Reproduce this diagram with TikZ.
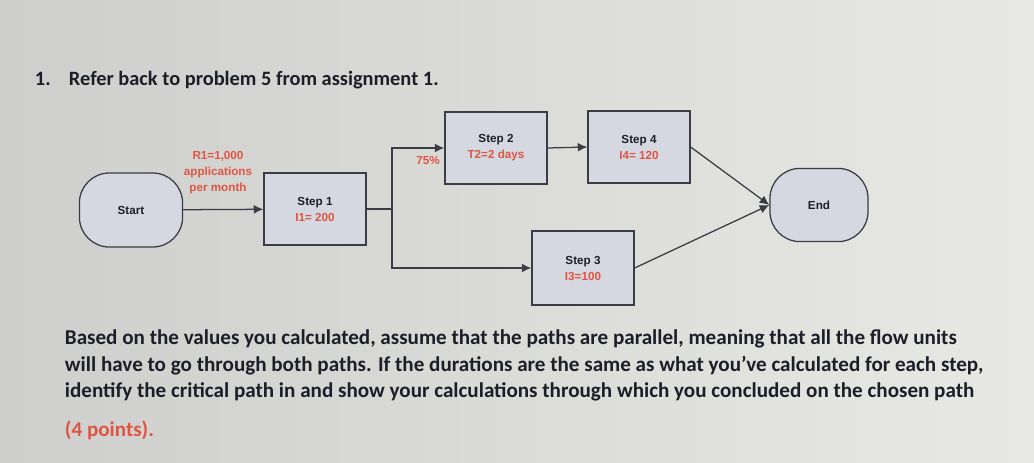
\documentclass[tikz,border=0pt]{standalone}
\usepackage{fontspec}
\setmainfont{Carlito}
\newfontfamily\boxfont{Liberation Sans}
\usetikzlibrary{arrows.meta}
\definecolor{bgleft}{RGB}{206,206,204}
\definecolor{bgright}{RGB}{232,232,228}
\definecolor{boxfill}{RGB}{213,216,225}
\definecolor{boxline}{RGB}{58,60,70}
\definecolor{txtred}{RGB}{222,86,66}
\definecolor{txtdark}{RGB}{28,30,40}
\tikzset{
  stepbox/.style={draw=boxline, line width=0.9pt, fill=boxfill, minimum width=2.55cm, minimum height=1.8cm,
    align=center, text=txtdark, font=\boxfont\bfseries\fontsize{8.3}{11.4}\selectfont},
  termbox/.style={stepbox, rounded corners=0.75cm},
  redlabel/.style={text=txtred, align=center, font=\boxfont\bfseries\fontsize{8.3}{11.4}\selectfont},
  flow/.style={draw=boxline, line width=0.9pt},
  tip/.style={flow, -{Latex[length=2.4mm,width=2.2mm]}},
  para/.style={anchor=base west, text=txtdark, font=\bfseries\fontsize{15}{18}\selectfont}
}
\begin{document}
\begin{tikzpicture}[x=0.025cm,y=-0.025cm]
\useasboundingbox (0,0) rectangle (1034,462);
\fill[left color=bgleft,right color=bgright] (0,0) rectangle (1034,462);
\node[anchor=base west, text=txtdark, font=\bfseries\fontsize{14.5}{17}\selectfont] (num) at (30,85) {1.};
\node[anchor=base west, text=txtdark, font=\bfseries\fontsize{14.5}{17}\selectfont] (title) at (64,85) {Refer back to problem 5 from assignment 1.};
\node[termbox, minimum width=2.58cm, minimum height=1.85cm] (start) at (131,210) {Start};
\node[stepbox] (step1) at (315,209) {Step 1\\{\color{txtred}I1= 200}};
\node[stepbox] (step2) at (496,148) {Step 2\\{\color{txtred}T2=2 days}};
\node[stepbox] (step4) at (639,147) {Step 4\\{\color{txtred}I4= 120}};
\node[stepbox, minimum height=1.85cm] (step3) at (583,268) {Step 3\\{\color{txtred}I3=100}};
\node[termbox, minimum width=2.45cm, minimum height=1.83cm] (stop) at (819,205) {End};
\node[redlabel] (rate) at (218,173) {R1=1,000\\applications\\per month};
\node[redlabel] (share) at (428,160) {75\%};
\coordinate (split) at (392,209);
\draw[tip] (start) -- (step1);
\draw[flow] (step1.east) -- (split);
\draw[tip] (split) |- (step2.west);
\draw[tip] (split) |- (step3.west);
\draw[tip] (step2.east) -- (step4.west);
\draw[tip] (step4.east) -- (stop.west);
\draw[tip] (step3.east) -- (stop.west);
\node[para] (line1) at (60,344) {Based on the values you calculated, assume that the paths are parallel, meaning that all the flow units};
\node[para] (line2) at (60,371) {will have to go through both paths. If the durations are the same as what you've calculated for each step,};
\node[para] (line3) at (60,397) {identify the critical path in and show your calculations through which you concluded on the chosen path};
\node[para, text=txtred] (line4) at (60,436) {(4 points).};
\end{tikzpicture}
\end{document}
